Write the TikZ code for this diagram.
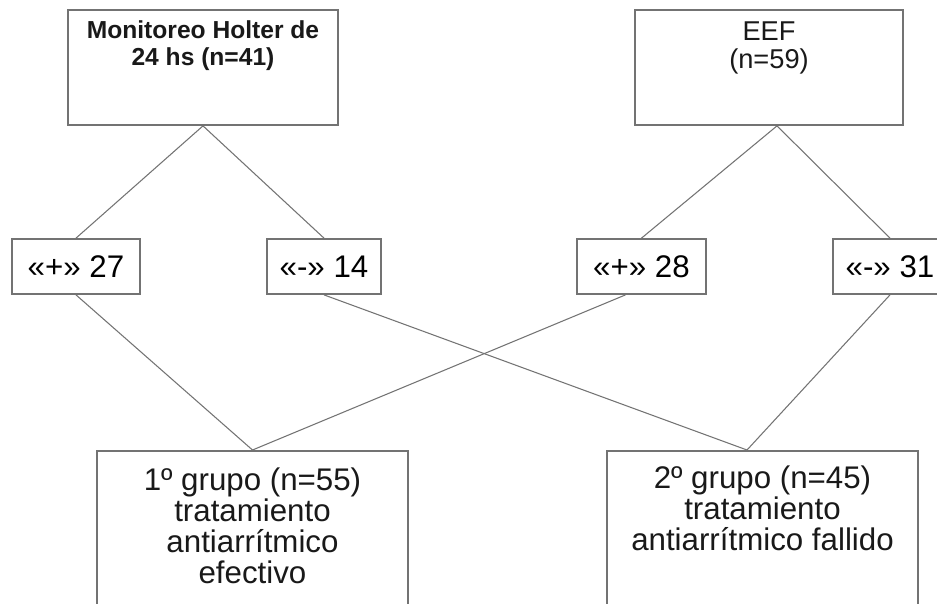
\documentclass[tikz,border=0pt]{standalone}
\usepackage{fontspec}
\setmainfont{Liberation Sans}
\usepackage{tikz}

\begin{document}
\begin{tikzpicture}[x=0.02cm,y=-0.02cm,
    box/.style={draw=black!55,line width=1pt,rectangle,inner sep=0pt},
    link/.style={draw=black!55,line width=0.6pt},
    txt/.style={text=black!90,align=center,inner sep=0pt,anchor=base},
    big/.style={font=\fontsize{17.8pt}{17.6pt}\selectfont}]
    % Define the frame
    \clip (0,0) rectangle (937,603);
    \fill[white] (0,0) rectangle (937,603);
    % Top boxes (text anchored at its last baseline)
    \node[box,minimum width=5.4cm,minimum height=2.3cm] (holter) at (203,67.5) {};
    \node[txt,font=\fontsize{14pt}{15.3pt}\selectfont\bfseries] (tholter) at (203,65) {Monitoreo Holter de\\24 hs (n=41)};
    \node[box,minimum width=5.36cm,minimum height=2.3cm] (eef) at (769,67.5) {};
    \node[txt,font=\fontsize{15.5pt}{15.9pt}\selectfont] (teef) at (769,68) {EEF\\(n=59)};
    % Results
    \node[box,big,minimum width=2.56cm,minimum height=1.1cm] (b27) at (76,266.5) {«+» 27};
    \node[box,big,minimum width=2.28cm,minimum height=1.1cm] (b14) at (324,266.5) {«-» 14};
    \node[box,big,minimum width=2.58cm,minimum height=1.1cm] (b28) at (641.5,266.5) {«+» 28};
    \node[box,big,minimum width=2.28cm,minimum height=1.1cm] (b31) at (890,266.5) {«-» 31};
    % Groups
    \node[box,anchor=north,minimum width=6.22cm,minimum height=4cm] (g1) at (252.5,450) {};
    \node[txt,big] (tg1) at (252.5,583) {1º grupo (n=55)\\tratamiento\\antiarrítmico\\efectivo};
    \node[box,anchor=north,minimum width=6.22cm,minimum height=4cm] (g2) at (762.5,450) {};
    \node[txt,big] (tg2) at (762.5,550) {2º grupo (n=45)\\tratamiento\\antiarrítmico fallido};
    % Connectors
    \coordinate (eefin) at ([xshift=0.16cm]eef.south);
    \coordinate (b28out) at ([xshift=-0.32cm]b28.south);
    \coordinate (g2in) at ([xshift=-0.31cm]g2.north);
    \draw[link] (b27.north) -- (holter.south) -- (b14.north);
    \draw[link] (b28.north) -- (eefin) -- (b31.north);
    \draw[link] (b27.south) -- (g1.north) -- (b28out);
    \draw[link] (b14.south) -- (g2in) -- (b31.south);
\end{tikzpicture}
\end{document}
